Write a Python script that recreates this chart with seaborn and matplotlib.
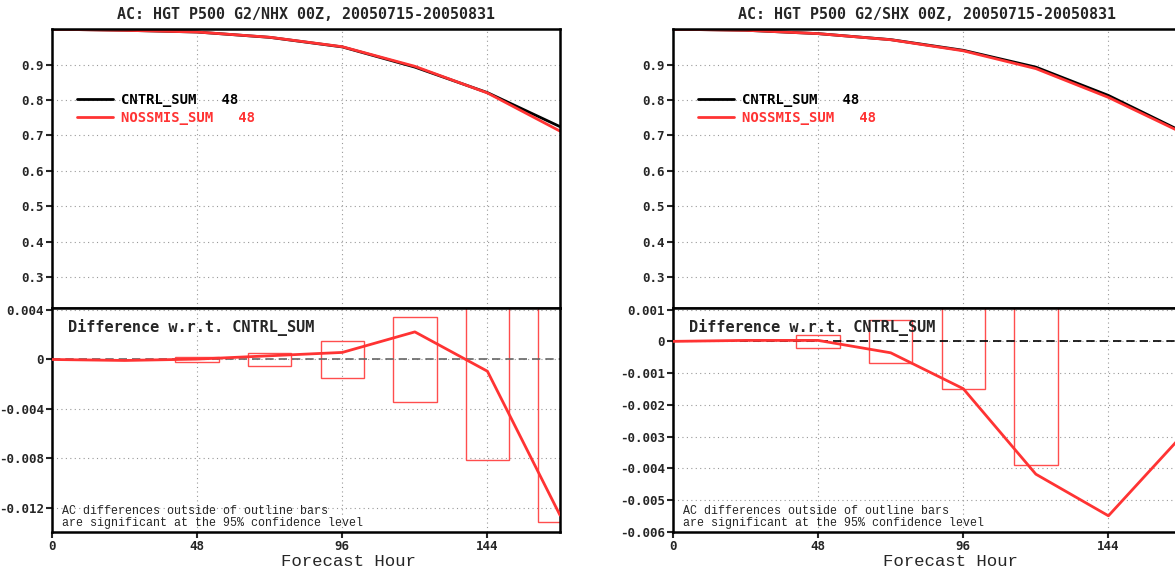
import numpy as np
import pandas as pd
import matplotlib
matplotlib.use("Agg")
import matplotlib.pyplot as plt
import seaborn as sns

# ---------------- data ----------------
hours = [0, 24, 48, 72, 96, 120, 144, 168]

# NHX anomaly correlation
cntrl_nh = [1.0000, 0.9970, 0.9920, 0.9770, 0.9500, 0.8930, 0.8210, 0.7250]
noss_nh = [1.0000, 0.99692, 0.99203, 0.97730, 0.95057, 0.89523, 0.82005, 0.71242]

# SHX anomaly correlation
cntrl_sh = [1.0000, 0.9970, 0.9875, 0.9706, 0.9405, 0.8930, 0.8130, 0.7125]
noss_sh = [1.0000, 0.99703, 0.98753, 0.97024, 0.93901, 0.88882, 0.80751, 0.70950]

# significance bars (half widths of the 95% confidence interval)
bar_hours_nh = [48, 72, 96, 120, 144, 168]
bar_half_nh = [0.0002, 0.0005, 0.0015, 0.0034, 0.0081, 0.0131]
bar_hours_sh = [48, 72, 96, 120]
bar_half_sh = [0.0002, 0.00067, 0.0015, 0.0039]

titles = ["AC: HGT P500 G2/NHX 00Z, 20050715-20050831",
          "AC: HGT P500 G2/SHX 00Z, 20050715-20050831"]
series_names = ["CNTRL_SUM   48", "NOSSMIS_SUM   48"]
top_yticks = [0.3, 0.4, 0.5, 0.6, 0.7, 0.8, 0.9]
xticks = [0, 48, 96, 144]
nh_dticks = [0.004, 0, -0.004, -0.008, -0.012]
nh_dlabels = ["0.004", "0", "-0.004", "-0.008", "-0.012"]
sh_dticks = [0.001, 0, -0.001, -0.002, -0.003, -0.004, -0.005, -0.006]
sh_dlabels = ["0.001", "0", "-0.001", "-0.002", "-0.003", "-0.004", "-0.005", "-0.006"]

# ---------------- style ----------------
sns.set_style("white")
plt.rcParams['font.family'] = ['DejaVu Sans Mono', 'DejaVu Sans']

RED = "#ff3333"
BOXRED = "#ff4d4d"
W, H = 1175, 573
fig = plt.figure(figsize=(W / 100, H / 100), dpi=100)

def fx(px):
    return px / W

def fy(py):
    return 1 - py / H

tickfont = dict(family='DejaVu Sans Mono', weight='bold', size=9)
mono = 'Liberation Mono'

def style_axes(ax):
    for s in ax.spines.values():
        s.set_color("black")
        s.set_linewidth(1.8)
    ax.grid(True, color="#999999", linestyle=(0, (1, 3)), linewidth=0.8)
    ax.tick_params(axis='both', direction='out', length=4, width=1.5,
                   left=True, bottom=True, pad=2)
    ax.set_xlim(0, 168)
    ax.set_xticks(xticks)

panels = [
    (52, cntrl_nh, noss_nh, bar_hours_nh, bar_half_nh, nh_dticks, nh_dlabels,
     (-0.01394, 0.00416), "#666666", titles[0], 348),
    (673, cntrl_sh, noss_sh, bar_hours_sh, bar_half_sh, sh_dticks, sh_dlabels,
     (-0.006, 0.00105), "black", titles[1], 950),
]

axw = 508
for (x0, cntrl, noss, bh, bhalf, dticks, dlabels, dlim, zcol, title, xlab_x) in panels:
    ax1 = fig.add_axes([fx(x0), fy(308), fx(axw), (308 - 29) / H])
    ax2 = fig.add_axes([fx(x0), fy(532), fx(axw), (532 - 308) / H])

    # ---- top: AC curves ----
    df = pd.DataFrame({"hour": hours, "cntrl": cntrl, "noss": noss})
    sns.lineplot(data=df, x="hour", y="cntrl", ax=ax1, color="black", lw=2,
                 label=series_names[0])
    sns.lineplot(data=df, x="hour", y="noss", ax=ax1, color=RED, lw=2,
                 label=series_names[1])
    style_axes(ax1)
    ax1.set_ylim(0.213, 1.0006)
    ax1.set_yticks(top_yticks)
    ax1.set_yticklabels([f"{v:.1f}" for v in top_yticks], fontdict=tickfont)
    ax1.set_xticklabels([])
    ax1.tick_params(axis='x', length=0)
    ax1.set_xlabel("")
    ax1.set_ylabel("")
    ax1.legend(loc="upper left", bbox_to_anchor=(0.024, 0.815),
               frameon=False, handlelength=2.6, handletextpad=0.6,
               labelspacing=0.25, labelcolor=["black", RED],
               prop=dict(family='DejaVu Sans Mono', weight='bold', size=10))
    ax1.set_title(title, fontdict=dict(family='DejaVu Sans Mono', weight='bold',
                                        size=10.8), pad=7)

    # ---- bottom: differences ----
    diff = np.array(noss) - np.array(cntrl)
    ddf = pd.DataFrame({"hour": hours, "diff": diff})
    ax2.bar(bh, [2 * v for v in bhalf], bottom=[-v for v in bhalf], width=14.4,
            fill=False, edgecolor=BOXRED, linewidth=1.0, zorder=2)
    ax2.axhline(0, color=zcol, lw=1.2, ls=(0, (5, 3)), zorder=2)
    sns.lineplot(data=ddf, x="hour", y="diff", ax=ax2, color=RED, lw=2,
                 zorder=3)
    style_axes(ax2)
    ax2.set_ylim(*dlim)
    ax2.set_yticks(dticks)
    ax2.set_yticklabels(dlabels, fontdict=tickfont)
    ax2.set_xticklabels([str(v) for v in xticks], fontdict=tickfont)
    ax2.set_xlabel("")
    ax2.set_ylabel("")
    ax2.text(0.032, 0.915, "Difference w.r.t. CNTRL_SUM", transform=ax2.transAxes,
             fontsize=11, weight='bold', family='DejaVu Sans Mono',
             va='center', ha='left')
    ax2.text(0.02, 0.015, "AC differences outside of outline bars\n"
             "are significant at the 95% confidence level",
             transform=ax2.transAxes, fontsize=8.4, family=mono,
             va='bottom', ha='left', linespacing=1.0)

    fig.text(fx(xlab_x), fy(562), "Forecast Hour", ha='center', va='center',
             fontsize=12.5, family=mono)

fig.savefig("out.png", dpi=100)
